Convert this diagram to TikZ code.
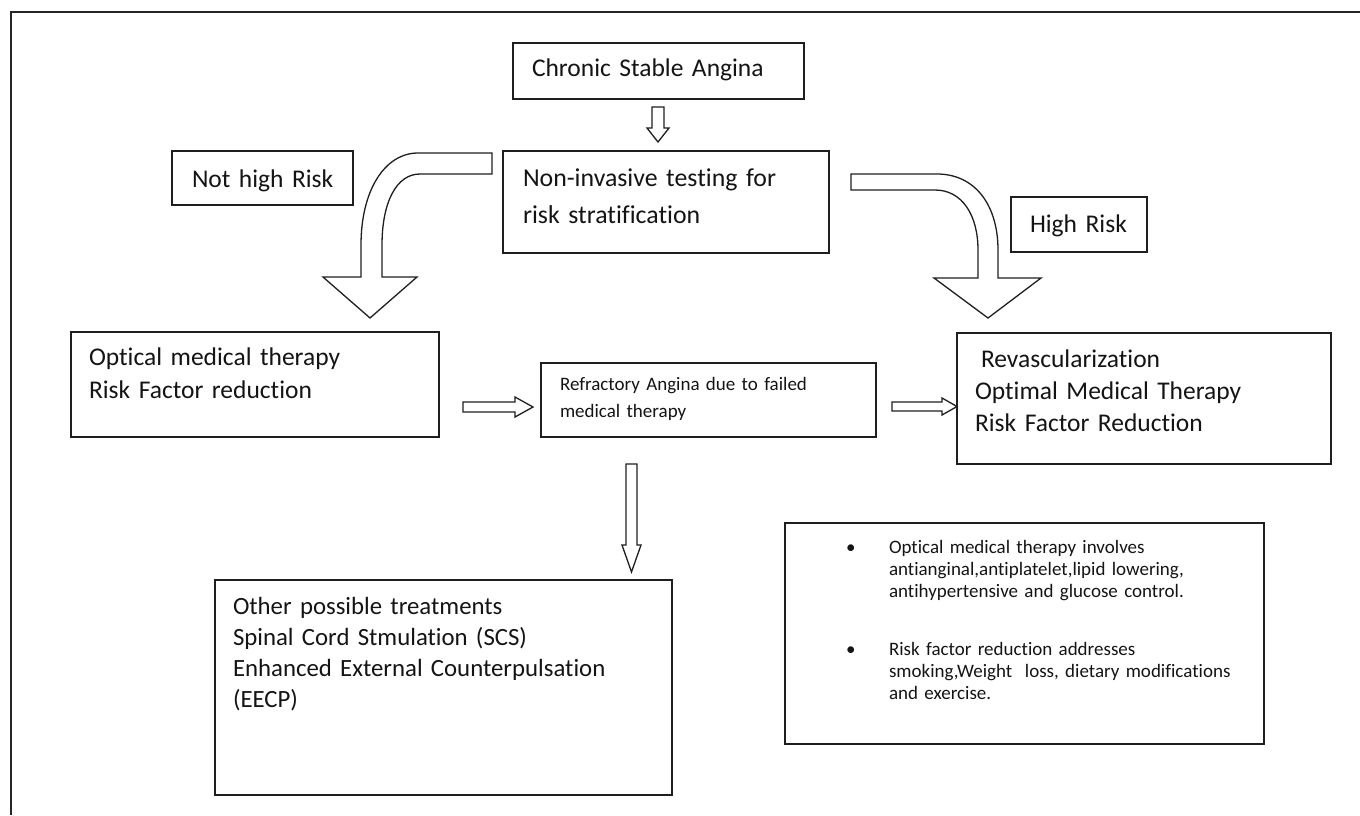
\documentclass[tikz,border=0pt]{standalone}
\usepackage{fontspec}
\setmainfont{Carlito}[Ligatures={NoCommon}]
\begin{document}
\begin{tikzpicture}[x=1pt,y=-1pt,
  box/.style={draw=black!88, line width=1.3pt, anchor=north west, inner sep=0pt, outer sep=0pt},
  txt/.style={anchor=base west, inner sep=0pt, outer sep=0pt, align=left, text width=#1, text=black!92},
  txt/.default=420pt,
  big/.style={font=\fontsize{25.5}{#1}\selectfont},
  small/.style={font=\fontsize{19}{#1}\selectfont},
  blk/.style={draw=black!88, line width=1.3pt, line join=miter, fill=white},
  frame/.style={draw=black!85, line width=2.4pt}
]
\useasboundingbox (0,0) rectangle (1360,815);
\draw[frame] (11,815) -- (11,12) -- (1360,12);

% boxes
\node[box, minimum width=291pt, minimum height=56pt] (csa) at (513,43) {};
\node[box, minimum width=326pt, minimum height=102pt] (nit) at (503,151) {};
\node[box, minimum width=181pt, minimum height=54pt] (nhr) at (172,151) {};
\node[box, minimum width=136pt, minimum height=55pt] (hr) at (1011,197) {};
\node[box, minimum width=374pt, minimum height=131pt] (rev) at (957,333) {};
\node[box, minimum width=368pt, minimum height=105pt] (omt) at (71,332) {};
\node[box, minimum width=335pt, minimum height=74pt] (ref) at (541,363) {};
\node[box, minimum width=457pt, minimum height=215pt] (oth) at (215,580) {};
\node[box, minimum width=479pt, minimum height=221pt] (notes) at (785,523) {};

% texts
\node[txt, big=33pt] (tcsa) at (532,76) {Chronic Stable Angina};
\node[txt, big=33pt] (tnhr) at (192,187) {Not high Risk};
\node[txt, font=\fontsize{25.8}{37}\selectfont] (tnit) at (523,186) {Non-invasive testing for\\risk stratification};
\node[txt, big=33pt] (thr) at (1030,232) {High Risk};
\node[txt, big=33pt] (tomt) at (89,365) {Optical medical therapy\\Risk Factor reduction};
\node[txt, big=32pt] (trev) at (975,367) {\hspace*{6pt}Revascularization\\Optimal Medical Therapy\\Risk Factor Reduction};
\node[txt, small=27pt] (tref) at (560,390) {Refractory Angina due to failed\\medical therapy};
\node[txt, font=\fontsize{24.8}{31}\selectfont] (toth) at (233,614) {Other possible treatments\\Spinal Cord Stmulation (SCS)\\Enhanced External Counterpulsation\\(EECP)};
\node[txt=20pt, small=22pt] (b1) at (846,553) {•};
\node[txt=20pt, small=22pt] (b2) at (846,655) {•};
\node[txt, small=22pt] (tn1) at (889,553) {Optical medical therapy involves\\antianginal,antiplatelet,lipid lowering,\\antihypertensive and glucose control.};
\node[txt, small=22pt] (tn2) at (889,655) {Risk factor reduction addresses\\smoking,Weight\ \ loss, dietary modifications\\and exercise.};

% small block arrows
\draw[blk] (652,107) -- (664,107) -- (664,128) -- (669,128) -- (658,142) -- (647,128) -- (652,128) -- cycle;
\draw[blk] (463,402) -- (515,402) -- (515,397) -- (533,407) -- (515,417) -- (515,412) -- (463,412) -- cycle;
\draw[blk] (892,402) -- (942,402) -- (942,398) -- (957,406.5) -- (942,415) -- (942,411) -- (892,411) -- cycle;
\draw[blk] (626,464) -- (637,464) -- (637,545) -- (641,545) -- (631.5,572) -- (622,545) -- (626,545) -- cycle;

% curved block arrows
\draw[blk] (492,153) -- (418,153) .. controls (385,153) and (361,190) .. (361,245) -- (361,277)
  -- (323,277) -- (370,318) -- (417,277) -- (382,277) -- (382,245)
  .. controls (382,203) and (396,174) .. (420,174) -- (492,174) -- cycle;
\draw[blk] (851,174) -- (937,174) .. controls (975,174) and (998,205) .. (998,250) -- (998,278)
  -- (1041,278) -- (988,318) -- (934,278) -- (978,278) -- (978,250)
  .. controls (978,215) and (962,190) .. (935,190) -- (851,190) -- cycle;
\end{tikzpicture}
\end{document}
